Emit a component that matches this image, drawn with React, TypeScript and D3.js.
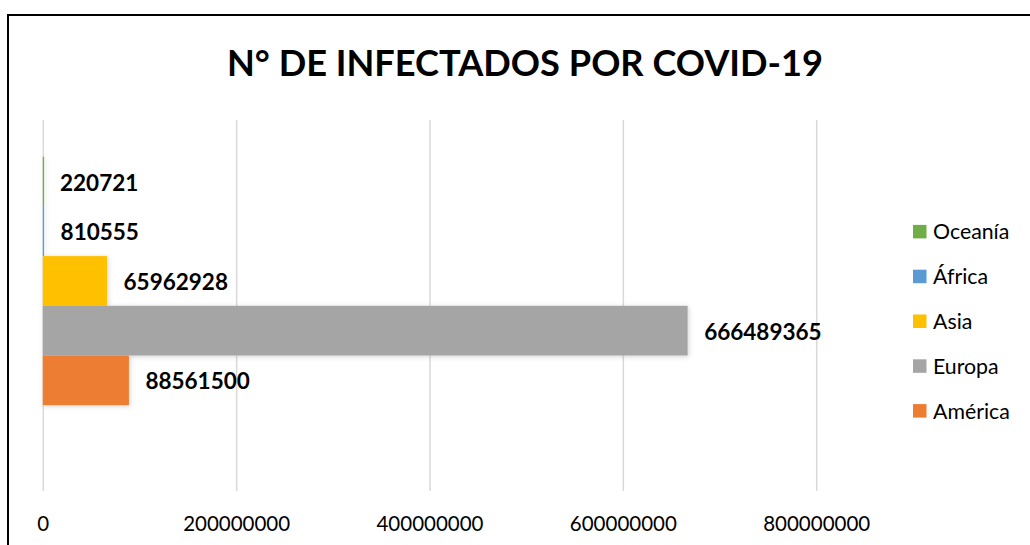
import React, { useEffect, useRef } from 'react';
import * as d3 from 'd3';

// data
const series = ['Oceanía', 'África', 'Asia', 'Europa', 'América'];
const values = [220721, 810555, 65962928, 666489365, 88561500];
const colors = ['#70AD47', '#5B9BD5', '#FFC000', '#A5A5A5', '#ED7D31'];
const xTicks = [0, 200000000, 400000000, 600000000, 800000000];
const title = 'N° DE INFECTADOS POR COVID-19';

export default function App() {
  const svgRef = useRef<SVGSVGElement>(null);

  useEffect(() => {
    const width = 1030;
    const height = 545;
    const plot = { left: 43.3, right: 816.7, top: 120, bottom: 491 };

    const svg = d3.select(svgRef.current);
    svg.selectAll('*').remove();
    svg.attr('width', width).attr('height', height);

    const defs = svg.append('defs');
    const shadow = defs.append('filter')
      .attr('id', 'barShadow')
      .attr('x', '-10%').attr('y', '-20%')
      .attr('width', '120%').attr('height', '150%');
    shadow.append('feDropShadow')
      .attr('dx', 1).attr('dy', 1)
      .attr('stdDeviation', 2.5)
      .attr('flood-color', '#000')
      .attr('flood-opacity', 0.18);

    svg.append('rect')
      .attr('width', width).attr('height', height)
      .attr('fill', '#fff');

    // chart frame (runs off the right and bottom edges)
    svg.append('rect')
      .attr('x', 8).attr('y', 15)
      .attr('width', 1100).attr('height', 600)
      .attr('fill', 'none')
      .attr('stroke', '#000')
      .attr('stroke-width', 2);

    svg.append('text')
      .attr('x', 525)
      .attr('y', 76)
      .attr('text-anchor', 'middle')
      .attr('font-family', 'Lato, sans-serif')
      .attr('font-weight', 700)
      .attr('font-size', 36.2)
      .attr('fill', '#000')
      .text(title);

    const x = d3.scaleLinear()
      .domain([0, 800000000])
      .range([plot.left, plot.right]);

    const y = d3.scaleBand()
      .domain(series)
      .range([156.7, 405.2])
      .padding(0);

    // gridlines
    svg.append('g')
      .selectAll('line')
      .data(xTicks)
      .enter()
      .append('line')
      .attr('x1', d => x(d))
      .attr('x2', d => x(d))
      .attr('y1', plot.top)
      .attr('y2', plot.bottom)
      .attr('stroke', '#d9d9d9')
      .attr('stroke-width', 1.5);

    // tick labels
    svg.append('g')
      .selectAll('text')
      .data(xTicks)
      .enter()
      .append('text')
      .attr('x', d => x(d))
      .attr('y', 531)
      .attr('text-anchor', 'middle')
      .attr('font-family', 'Lato, sans-serif')
      .attr('font-size', 20.5)
      .attr('fill', '#000')
      .text(d => String(d));

    const rows = series.map((s, i) => ({ name: s, value: values[i], color: colors[i] }));

    // bars
    svg.append('g')
      .attr('filter', 'url(#barShadow)')
      .selectAll('rect')
      .data(rows)
      .enter()
      .append('rect')
      .attr('x', x(0) - 0.5)
      .attr('y', d => y(d.name)!)
      .attr('width', d => Math.max(x(d.value) - x(0) + 0.5, 1.3))
      .attr('height', y.bandwidth())
      .attr('fill', d => d.color);

    // data labels
    svg.append('g')
      .selectAll('text')
      .data(rows)
      .enter()
      .append('text')
      .attr('x', d => x(d.value) + 16.5)
      .attr('y', d => y(d.name)! + y.bandwidth() / 2 + 1)
      .attr('dy', '0.36em')
      .attr('font-family', 'Lato, sans-serif')
      .attr('font-weight', 700)
      .attr('font-size', 22.5)
      .attr('fill', '#000')
      .text(d => String(d.value));

    // legend
    const legend = svg.append('g')
      .selectAll('g')
      .data(rows)
      .enter()
      .append('g')
      .attr('transform', (d, i) => `translate(913, ${231.7 + i * 44.8})`);

    legend.append('rect')
      .attr('x', 0)
      .attr('y', -6.8)
      .attr('width', 13.5)
      .attr('height', 13.5)
      .attr('fill', d => d.color);

    legend.append('text')
      .attr('x', 20)
      .attr('y', 0)
      .attr('dy', '0.36em')
      .attr('font-family', 'Lato, sans-serif')
      .attr('font-size', 21.3)
      .attr('fill', '#000')
      .text(d => d.name);
  }, []);

  return (
    <svg
      ref={svgRef}
      style={{ position: 'absolute', left: 0, top: 0, display: 'block' }}
    ></svg>
  );
}
